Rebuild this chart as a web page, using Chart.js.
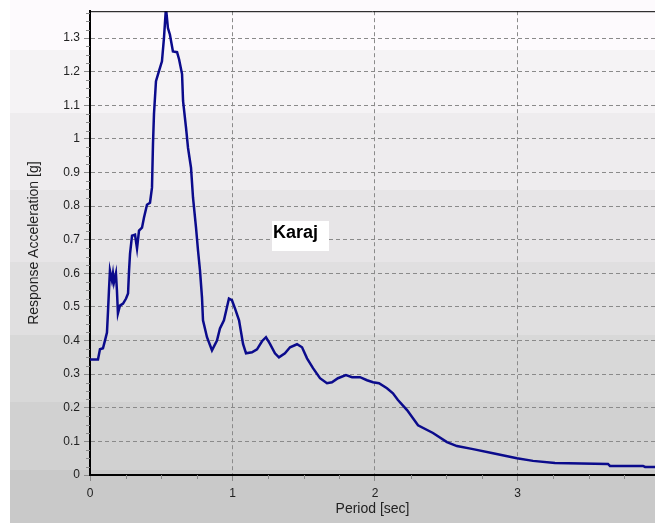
<!DOCTYPE html>
<html lang="en">
<head>
<meta charset="UTF-8">
<title>Karaj - Response Spectrum</title>
<script src="https://cdn.jsdelivr.net/npm/chart.js"></script>
<style>
  html, body { margin: 0; padding: 0; background: #fff; overflow: hidden; }
  .panel { position: relative; width: 655px; height: 523px; }
  /* banded backdrop, light at the top, grey at the bottom */
  .panel .bg {
    position: absolute; left: 10px; top: 0; right: 0; bottom: 0;
    background: linear-gradient(to bottom,
      #fdfafd 0px, #fdfafd 50px,
      #f5f3f5 50px, #f5f3f5 113px,
      #eeecee 113px, #eeecee 190px,
      #e7e5e7 190px, #e7e5e7 262px,
      #e0dfe0 262px, #e0dfe0 335px,
      #d8d8d8 335px, #d8d8d8 402px,
      #d1d1d1 402px, #d1d1d1 470px,
      #c9c9c9 470px, #c9c9c9 523px);
  }
  #spectrum { position: absolute; left: 0; top: 0; }
</style>
</head>
<body>
<div class="panel">
  <div class="bg"></div>
  <canvas id="spectrum" width="655" height="523"></canvas>
</div>
<script>
// Period [sec]
const periods = [0, 0.056, 0.07, 0.091, 0.105, 0.119, 0.126, 0.133, 0.14, 0.154,
  0.161, 0.168, 0.182, 0.189, 0.196, 0.21, 0.232, 0.253, 0.267, 0.274,
  0.281, 0.295, 0.316, 0.33, 0.344, 0.365, 0.379, 0.40, 0.421, 0.435,
  0.442, 0.449, 0.463, 0.484, 0.505, 0.519, 0.533, 0.547, 0.561, 0.582,
  0.611, 0.625, 0.646, 0.653, 0.674, 0.688, 0.709, 0.723, 0.744, 0.758,
  0.772, 0.786, 0.793, 0.821, 0.856, 0.891, 0.912, 0.94, 0.961, 0.975,
  0.996, 1.018, 1.046, 1.074, 1.095, 1.137, 1.172, 1.207, 1.235, 1.263,
  1.298, 1.326, 1.368, 1.404, 1.453, 1.488, 1.523, 1.565, 1.614, 1.663,
  1.698, 1.74, 1.796, 1.839, 1.895, 1.944, 1.986, 2.028, 2.084, 2.126,
  2.161, 2.225, 2.302, 2.407, 2.505, 2.575, 2.688, 2.828, 2.996, 3.109,
  3.263, 3.635, 3.649, 3.881, 3.895, 4.0];

// Response acceleration [g]
const accel = [0.344, 0.344, 0.374, 0.377, 0.40, 0.424, 0.484, 0.549, 0.608, 0.579,
  0.599, 0.573, 0.60, 0.549, 0.481, 0.504, 0.51, 0.525, 0.54, 0.608,
  0.659, 0.712, 0.715, 0.674, 0.727, 0.736, 0.766, 0.804, 0.81, 0.855,
  0.985, 1.074, 1.172, 1.202, 1.231, 1.30, 1.39, 1.33, 1.31, 1.26,
  1.258, 1.237, 1.193, 1.113, 1.033, 0.973, 0.914, 0.825, 0.736, 0.668,
  0.608, 0.528, 0.46, 0.41, 0.371, 0.40, 0.436, 0.46, 0.499, 0.525,
  0.52, 0.495, 0.46, 0.39, 0.362, 0.365, 0.374, 0.398, 0.41, 0.39,
  0.362, 0.35, 0.362, 0.38, 0.389, 0.38, 0.347, 0.318, 0.288, 0.273,
  0.276, 0.288, 0.297, 0.291, 0.291, 0.282, 0.276, 0.273, 0.258, 0.243,
  0.223, 0.193, 0.148, 0.125, 0.098, 0.086, 0.077, 0.065, 0.05, 0.042,
  0.036, 0.033, 0.027, 0.027, 0.024, 0.024];

const stationName = 'Karaj';
const xMax = 3.965;
const yMax = 1.38;

// small ticks between the labelled ones, top frame line and the station tag
const extrasPlugin = {
  id: 'extras',
  afterDraw(chart) {
    const { ctx, chartArea, scales } = chart;
    const xs = scales.x, ys = scales.y;
    ctx.save();
    ctx.strokeStyle = '#8a8a8a';
    ctx.lineWidth = 1;
    ctx.beginPath();
    for (let v = 0.025; v < yMax; v += 0.025) {
      if (Math.abs(v * 10 - Math.round(v * 10)) < 1e-6) continue;
      const py = Math.round(ys.getPixelForValue(v)) + 0.5;
      ctx.moveTo(chartArea.left - 4, py);
      ctx.lineTo(chartArea.left, py);
    }
    for (let v = 0.25; v < xMax; v += 0.25) {
      if (Math.abs(v - Math.round(v)) < 1e-6) continue;
      const px = Math.round(xs.getPixelForValue(v)) + 0.5;
      ctx.moveTo(px, chartArea.bottom);
      ctx.lineTo(px, chartArea.bottom + 4);
    }
    ctx.stroke();

    // top frame
    ctx.strokeStyle = '#000';
    ctx.beginPath();
    ctx.moveTo(chartArea.left, chartArea.top + 0.5);
    ctx.lineTo(chartArea.right, chartArea.top + 0.5);
    ctx.stroke();

    // station tag
    ctx.fillStyle = '#fff';
    ctx.fillRect(chartArea.left + 182, 221, 57, 30);
    ctx.fillStyle = '#000';
    ctx.font = 'bold 18px "Liberation Sans", Arial, sans-serif';
    ctx.textBaseline = 'alphabetic';
    ctx.fillText(stationName, chartArea.left + 183, 238);
    ctx.restore();
  }
};

const ctx = document.getElementById('spectrum').getContext('2d');
new Chart(ctx, {
  type: 'line',
  data: {
    datasets: [{
      label: stationName,
      data: periods.map((t, i) => ({ x: t, y: accel[i] })),
      borderColor: '#0b0b8c',
      borderWidth: 2.5,
      pointRadius: 0,
      tension: 0,
      fill: false
    }]
  },
  options: {
    responsive: false,
    animation: false,
    events: [],
    layout: { padding: { top: 10, right: 0, bottom: 0, left: 0 } },
    plugins: {
      legend: { display: false },
      tooltip: { enabled: false }
    },
    scales: {
      x: {
        type: 'linear',
        min: 0,
        max: xMax,
        afterFit: s => { s.height = 48; },
        ticks: {
          stepSize: 1,
          includeBounds: false,
          maxRotation: 0,
          padding: 5,
          color: '#222',
          font: { family: '"Liberation Sans", Arial, sans-serif', size: 12 },
          callback: v => String(+v.toFixed(2))
        },
        grid: { color: '#8a8a8a', tickColor: '#8a8a8a', tickLength: 6, lineWidth: 1 },
        border: { color: '#000', width: 2, dash: [4, 3] },
        title: {
          display: true,
          text: 'Period [sec]',
          color: '#222',
          font: { family: '"Liberation Sans", Arial, sans-serif', size: 14 },
          padding: { top: 0, bottom: 5 }
        }
      },
      y: {
        type: 'linear',
        min: 0,
        max: yMax,
        afterFit: s => { s.width = 90; },
        ticks: {
          stepSize: 0.1,
          includeBounds: false,
          padding: 4,
          color: '#222',
          font: { family: '"Liberation Sans", Arial, sans-serif', size: 12 },
          callback: v => String(+v.toFixed(2))
        },
        grid: { color: '#8a8a8a', tickColor: '#8a8a8a', tickLength: 6, lineWidth: 1 },
        border: { color: '#000', width: 2, dash: [4, 3] },
        title: {
          display: true,
          text: 'Response Acceleration [g]',
          color: '#222',
          font: { family: '"Liberation Sans", Arial, sans-serif', size: 14 },
          padding: { top: 26, bottom: 0 }
        }
      }
    }
  },
  plugins: [extrasPlugin]
});
</script>
</body>
</html>
